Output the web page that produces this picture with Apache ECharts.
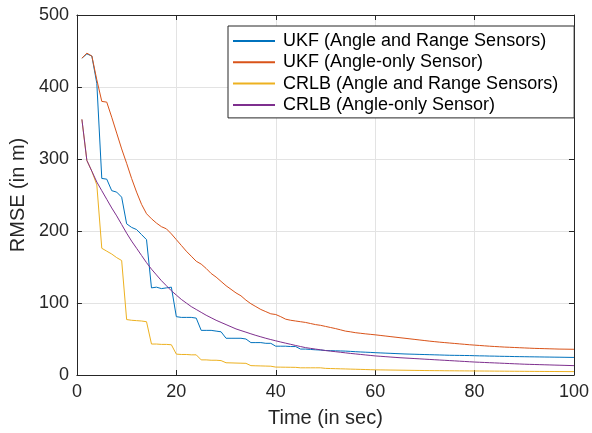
<!DOCTYPE html>
<html>
<head>
<meta charset="utf-8">
<script src="https://cdn.jsdelivr.net/npm/echarts@6/dist/echarts.min.js"></script>
<style>html,body{margin:0;padding:0;background:#fff;}#chart{width:592px;height:433px;}</style>
</head>
<body>
<div id="chart"></div>
<script>
const time = [];
for (let t = 1; t <= 100; t++) time.push(t);

const seriesNames = [
  'UKF (Angle and Range Sensors)',
  'UKF (Angle-only Sensor)',
  'CRLB (Angle and Range Sensors)',
  'CRLB (Angle-only Sensor)'
];

const ukfAngleRange = [
  440,446,443,405,273,272,256,254,247,210,
  205,202,195,188,121,122,120,121,122,81,
  80,80,80,79,62,62,62,61,60,51,
  51,51,51,50,45,45,45,44,44,40,
  40,40,39.5,39.5,36,36,35.5,35,34.7,34,
  33.8,33.6,33.4,33.2,32.8,32.4,32,31.7,31.4,31,
  30.7,30.4,30.1,29.8,29.5,29.2,29,28.8,28.6,28.4,
  28.2,28,27.8,27.6,27.4,27.3,27.2,27.1,27,26.8,
  26.6,26.5,26.3,26.2,26,25.9,25.8,25.6,25.5,25.4,
  25.3,25.2,25.1,25,24.9,24.8,24.7,24.6,24.5,24.4
];

const ukfAngleOnly = [
  440,447,443,410,380,379,358,336,314,294,
  273,254,237,224,217,211,206,203,196,188,
  180,172,165,158,154,148,141,136,130,124,
  119,114,110,104,99,95,91,88,85,84,
  81,77.5,76,75,74,73,71.5,70,69,67.5,
  66,64.5,62.8,61,60,58.8,58,57.2,56.5,55.8,
  55,54.2,53.4,52.6,51.8,51,50.2,49.4,48.6,47.8,
  47,46.3,45.6,45,44.4,43.8,43.2,42.6,42,41.5,
  41,40.5,40,39.6,39.2,38.8,38.5,38.2,37.9,37.6,
  37.3,37,36.8,36.6,36.4,36.2,36,35.9,35.8,35.7
];

const crlbAngleRange = [
  355,298,283,264,176,172,168,163,159,77,
  76,75.5,75,74,43,43,42.5,42.5,42,29,
  28.5,28.5,28,28,21,21,20.5,20.5,20,17,
  16.8,16.6,16.4,16.2,13,12.8,12.6,12.4,12.2,11,
  10.9,10.8,10.7,10.6,10,10,10,10,10,9.2,
  9,8.8,8.6,8.4,8.2,8,7.8,7.6,7.4,7.2,
  7.1,7,6.9,6.8,6.7,6.6,6.5,6.4,6.3,6.2,
  6.1,6.05,6,5.9,5.85,5.8,5.75,5.7,5.65,5.6,
  5.55,5.5,5.45,5.4,5.35,5.3,5.25,5.2,5.15,5.1,
  5.05,5,4.96,4.92,4.88,4.84,4.8,4.76,4.72,4.7
];

const crlbAngleOnly = [
  355,298,283,268,256,244,232,221,209,197,
  186,176,166,156,147,139,131,124,117,111,
  105,100,95,91,87,83,79.5,76,73,70,
  67,64,61.7,59.5,57.2,55,53,51,49.2,47.5,
  45.8,44.2,42.6,41,39.5,38,37,36,35,34,
  33.2,32.4,31.6,30.8,30,29.3,28.6,27.9,27.2,26.5,
  26,25.5,25,24.5,24,23.6,23.2,22.8,22.4,22,
  21.6,21.2,20.8,20.4,20,19.6,19.2,18.8,18.4,18,
  17.7,17.4,17.1,16.8,16.5,16.2,15.9,15.6,15.3,15,
  14.8,14.6,14.4,14.2,14,13.8,13.6,13.4,13.2,13
];

const xTicks = [0, 20, 40, 60, 80, 100];
const yTicks = [0, 100, 200, 300, 400, 500];
const colors = ['#0072BD', '#D95319', '#EDB120', '#7E2F8E'];
const allValues = [ukfAngleRange, ukfAngleOnly, crlbAngleRange, crlbAngleOnly];

const FONT = 'Liberation Sans, Arial, Helvetica, sans-serif';
const AX = '#262626';

const chart = echarts.init(document.getElementById('chart'), null, {renderer: 'canvas'});

const mkX = (pos, show) => ({
  type: 'value', position: pos, min: xTicks[0], max: xTicks[xTicks.length - 1], interval: 20,
  name: show ? 'Time (in sec)' : '', nameLocation: 'middle', nameGap: 33,
  nameTextStyle: {fontFamily: FONT, fontSize: 20, color: AX},
  axisLine: {show: true, onZero: false, lineStyle: {color: AX, width: 1}},
  axisTick: {show: true, inside: true, length: 5, lineStyle: {color: AX}},
  axisLabel: {show: show, fontFamily: FONT, fontSize: 18, color: AX, margin: 8},
  splitLine: {show: show, lineStyle: {color: '#e3e3e3', width: 1}}
});
const mkY = (pos, show) => ({
  type: 'value', position: pos, min: yTicks[0], max: yTicks[yTicks.length - 1], interval: 100,
  name: show ? 'RMSE (in m)' : '', nameLocation: 'middle', nameGap: 46,
  nameTextStyle: {fontFamily: FONT, fontSize: 20, color: AX},
  axisLine: {show: true, onZero: false, lineStyle: {color: AX, width: 1}},
  axisTick: {show: true, inside: true, length: 5, lineStyle: {color: AX}},
  axisLabel: {show: show, fontFamily: FONT, fontSize: 18, color: AX, margin: 8},
  splitLine: {show: show, lineStyle: {color: '#e3e3e3', width: 1}}
});

chart.setOption({
  animation: false,
  backgroundColor: '#fff',
  grid: {left: 76, right: 17, top: 15, bottom: 57, containLabel: false},
  xAxis: [mkX('bottom', true), mkX('top', false)],
  yAxis: [mkY('left', true), mkY('right', false)],
  legend: {
    orient: 'vertical', left: 228, top: 26,
    data: seriesNames,
    backgroundColor: '#fff', borderColor: AX, borderWidth: 1,
    padding: [6, 16, 4, 5], itemGap: 3.3,
    itemWidth: 42, itemHeight: 2, icon: 'rect',
    textStyle: {fontFamily: FONT, fontSize: 18, color: '#000', padding: [0, 0, 0, 3]}
  },
  series: seriesNames.map((n, i) => ({
    name: n, type: 'line', xAxisIndex: 0, yAxisIndex: 0,
    data: time.map((t, k) => [t, allValues[i][k]]),
    showSymbol: false, symbol: 'none',
    lineStyle: {color: colors[i], width: 1},
    itemStyle: {color: colors[i]},
    z: 2
  }))
});
</script>
</body>
</html>
